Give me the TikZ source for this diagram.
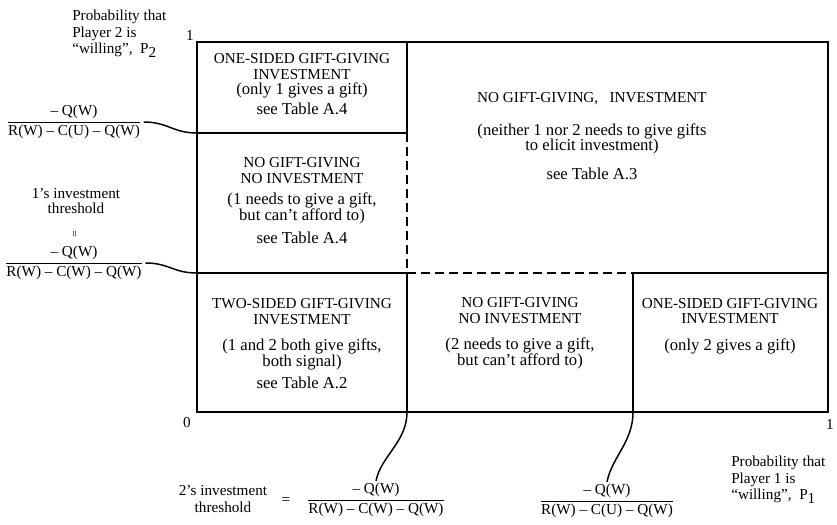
\documentclass[tikz,border=0pt]{standalone}
\usepackage{fontspec}
\setmainfont{Liberation Serif}
\newcommand{\cp}[1]{{\fontsize{11.4}{11.75}\selectfont #1}}
\newcommand{\frc}[2]{$\displaystyle\frac{\mbox{#1}}{\mbox{#2}}$}
\begin{document}
\begin{tikzpicture}[x=0.75pt, y=-0.75pt, line width=1.4pt]
      \tikzstyle{region}=[align=center, inner sep=0pt, font=\fontsize{12.5}{11.75}\selectfont]
      \tikzstyle{lbl}=[inner sep=1pt, font=\fontsize{11.4}{11.25}\selectfont]
      \tikzstyle{link}=[line width=1.1pt]
      \tikzstyle{brk}=[dash pattern=on 6.5pt off 4pt]
      \useasboundingbox (0,0) rectangle (837,524);
      % corners and break points of the unit square
      \coordinate (sw) at (197,412);
      \coordinate (se) at (828,412);
      \coordinate (ne) at (828,42);
      \coordinate (nw) at (197,42);
      \coordinate (h1) at (197,133);
      \coordinate (h2) at (197,273);
      \coordinate (v0) at (407,42);
      \coordinate (v1) at (407,133);
      \coordinate (v2) at (407,273);
      \coordinate (b1) at (407,412);
      \coordinate (c2) at (633,273);
      \coordinate (b2) at (633,412);
      \coordinate (e2) at (828,273);
      \draw (sw) rectangle (ne);
      \draw (h1) -- (v1);
      \draw (h2) -- (v2);
      \draw (v0) -- (v1);
      \draw[brk] (v1) -- (v2);
      \draw (v2) -- (b1);
      \draw[brk] (v2) -- (c2);
      \draw (b2) -- (c2) -- (e2);
      % regions
      \node[region] (tl) at (302,84) {\cp{ONE-SIDED GIFT-GIVING}\\ \cp{INVESTMENT}\\ (only 1 gives a gift)\\[3pt] see Table A.4};
      \node[region] (ml) at (302,201) {\cp{NO GIFT-GIVING}\\ \cp{NO INVESTMENT}\\[4pt] (1 needs to give a gift,\\ but can’t afford to)\\[6pt] see Table A.4};
      \node[region] (bl) at (302,344) {\cp{TWO-SIDED GIFT-GIVING}\\ \cp{INVESTMENT}\\[8pt] (1 and 2 both give gifts,\\ both signal)\\[5pt] see Table A.2};
      \node[region] (bm) at (520,333) {\cp{NO GIFT-GIVING}\\ \cp{NO INVESTMENT}\\[8pt] (2 needs to give a gift,\\ but can’t afford to)};
      \node[region] (br) at (730,326) {\cp{ONE-SIDED GIFT-GIVING}\\ \cp{INVESTMENT}\\[8pt] (only 2 gives a gift)};
      \node[region] (tr) at (592,136) {\cp{NO GIFT-GIVING,~~~INVESTMENT}\\[13pt] (neither 1 nor 2 needs to give gifts\\ to elicit investment)\\[10pt] see Table A.3};
      % axes
      \node[lbl] (top1) at (190,35) {1};
      \node[lbl] (zero) at (187,423) {0};
      \node[lbl] (right1) at (830,424) {1};
      \node[lbl, align=left, anchor=north west, font=\fontsize{11.4}{12.4}\selectfont] (p2) at (70,8) {Probability that\\ Player 2 is\\ “willing”,~ P\raisebox{-3pt}{2}};
      \node[lbl, align=left, anchor=north west, font=\fontsize{11.4}{12.4}\selectfont] (p1) at (729,454) {Probability that\\ Player 1 is\\ “willing”,~ P\raisebox{-3pt}{1}};
      % thresholds
      \node[lbl] (f1) at (74,122) {\frc{– Q(W)}{R(W) – C(U) – Q(W)}};
      \node[lbl, align=center] (th1) at (76,201) {1’s investment\\ threshold};
      \node[lbl, rotate=90, font=\fontsize{9}{9}\selectfont] (eq1) at (76,234) {=};
      \node[lbl] (f2) at (74,263) {\frc{– Q(W)}{R(W) – C(W) – Q(W)}};
      \node[lbl, align=center] (th2) at (223,499) {2’s investment\\[2pt] threshold};
      \node[lbl] (eq2) at (286,501) {=};
      \node[lbl] (f3) at (376,500) {\frc{– Q(W)}{R(W) – C(W) – Q(W)}};
      \node[lbl] (f4) at (607,501) {\frc{– Q(W)}{R(W) – C(U) – Q(W)}};
      \draw[link] (f1.east) .. controls +(24,0) and +(-24,0) .. (h1);
      \draw[link] (f2.east) .. controls +(24,0) and +(-24,0) .. (h2);
      \draw[link] (b1) .. controls +(0,30) and +(5,-25) .. (f3.north);
      \draw[link] (b2) .. controls +(0,30) and +(5,-25) .. (f4.north);
    \end{tikzpicture}
\end{document}
